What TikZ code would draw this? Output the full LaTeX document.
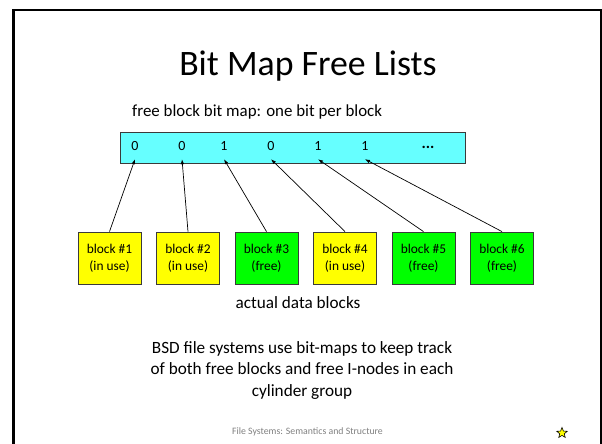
\documentclass[tikz,border=0pt]{standalone}
\usepackage{fontspec}
\setmainfont{Carlito}
\usepackage{xcolor}
\usepackage{tikz}
\usetikzlibrary{shapes.geometric, arrows.meta, positioning}
\definecolor{mapcyan}{HTML}{66FFFF}
\definecolor{usedyellow}{HTML}{FFFF00}
\definecolor{freegreen}{HTML}{00FF00}
\definecolor{edgegray}{HTML}{3A3A3A}
\tikzset{
  slidetext/.style={anchor=base, inner sep=0pt, align=center},
  bitcell/.style={inner sep=0pt, minimum height=26pt, font=\fontsize{14}{15}\selectfont},
  blockbox/.style={
    draw=edgegray, line width=0.8pt, align=center,
    minimum width=63pt, minimum height=52pt, inner sep=0pt,
    font=\fontsize{13.4}{17}\selectfont
  },
  usedblock/.style={blockbox, fill=usedyellow},
  freeblock/.style={blockbox, fill=freegreen},
  bitarrow/.style={-{Latex[length=5pt,width=3.5pt]}, line width=0.7pt},
}

\begin{document}
\begin{tikzpicture}[x=1pt, y=-1pt]
  \useasboundingbox (0,0) rectangle (602,444);

  % slide frame
  \draw[line width=2.6pt] (13.5,470) -- (13.5,10) -- (601,10) -- (601,470);

  % Title and caption
  \node[slidetext, font=\fontsize{35.8}{42}\selectfont] (title) at (308,75) {Bit Map Free Lists};
  \node[slidetext, anchor=base west, font=\fontsize{16.9}{20}\selectfont] (mapcap) at (132,116) {free block bit map: one bit per block};

  % Bit map
  \node[draw=edgegray, line width=0.8pt, fill=mapcyan, minimum width=345pt, minimum height=31pt, inner sep=0pt] (bitmap) at (292.5,147.5) {};
  \node[bitcell] (bit1) at (135,146) {0};
  \node[bitcell] (bit2) at (182,146) {0};
  \node[bitcell] (bit3) at (224,146) {1};
  \node[bitcell] (bit4) at (271,146) {0};
  \node[bitcell] (bit5) at (318,146) {1};
  \node[bitcell] (bit6) at (365,146) {1};
  \node[bitcell, font=\fontsize{16}{16}\selectfont\bfseries] (bitdots) at (428,147) {...};

  % Data blocks
  \node[usedblock] (blk1) at (109.5,258) {block \#1\\(in use)};
  \node[usedblock] (blk2) at (188,258) {block \#2\\(in use)};
  \node[freeblock] (blk3) at (266.5,258) {block \#3\\(free)};
  \node[usedblock] (blk4) at (345,258) {block \#4\\(in use)};
  \node[freeblock] (blk5) at (423.5,258) {block \#5\\(free)};
  \node[freeblock] (blk6) at (502,258) {block \#6\\(free)};

  % Arrows
  \draw[bitarrow] (blk1.north) -- (bit1.south);
  \draw[bitarrow] (blk2.north) -- (bit2.south);
  \draw[bitarrow] (blk3.north) -- (bit3.south);
  \draw[bitarrow] (blk4.north) -- (bit4.south);
  \draw[bitarrow] (blk5.north) -- (bit5.south);
  \draw[bitarrow] (blk6.north) -- (bit6.south);

  \node[slidetext, font=\fontsize{17.2}{20}\selectfont] (blkcap) at (298,308) {actual data blocks};

  % Note
  \node[slidetext, font=\fontsize{17.2}{21.5}\selectfont] (bsdnote) at (302,396) {BSD file systems use bit-maps to keep track\\of both free blocks and free I-nodes in each\\cylinder group};

  % Footer
  \node[font=\fontsize{9.8}{11}\selectfont, text=black!50, inner sep=0pt] (footer) at (307.5,432) {File Systems: Semantics and Structure};
  \node[star, star points=5, star point ratio=2.3, draw=black, fill=usedyellow, line width=0.6pt, minimum size=11pt, inner sep=0pt] (navstar) at (562,433) {};
\end{tikzpicture}
\end{document}
